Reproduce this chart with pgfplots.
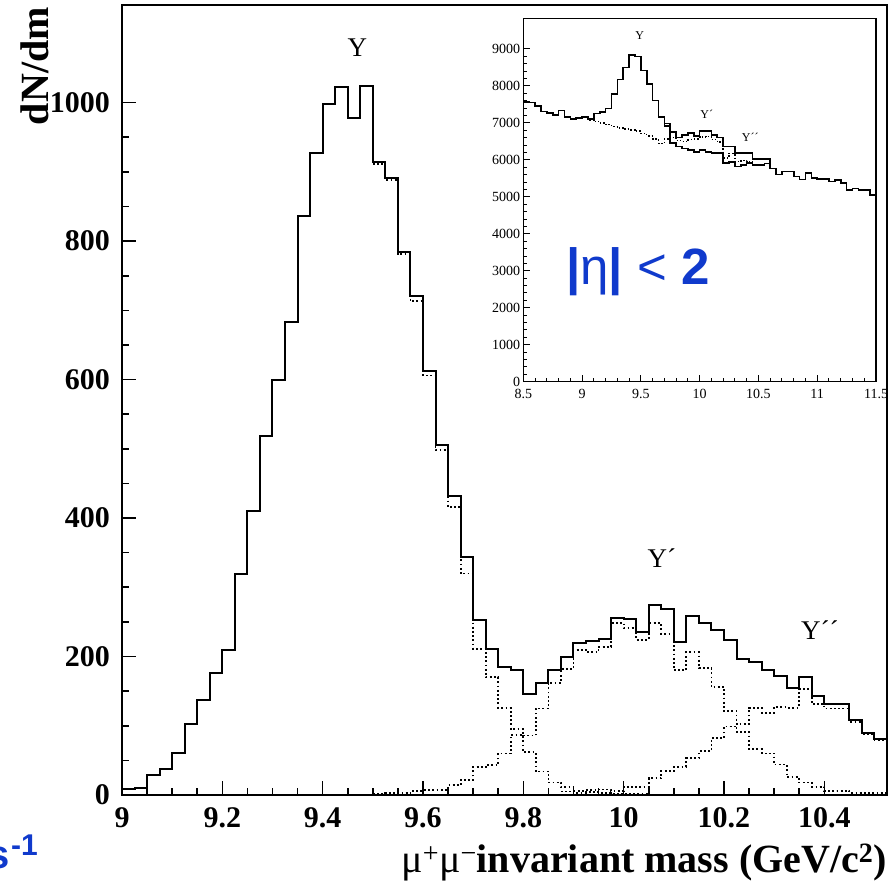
\documentclass[border=0pt]{standalone}
\usepackage{fontspec}
\setmainfont{Liberation Serif}
\setsansfont{Liberation Sans}
\usepackage{pgfplots}
\usepackage{pgfplotstable}
\pgfplotsset{compat=1.18}
\definecolor{labelblue}{RGB}{16,58,204}

% main histogram: total (bin lower edges, width 0.025)
\pgfplotstableread{
m v
9.000 8
9.025 10
9.050 29
9.075 38
9.100 61
9.125 102
9.150 137
9.175 176
9.200 209
9.225 319
9.250 410
9.275 519
9.300 600
9.325 683
9.350 836
9.375 927
9.400 998
9.425 1023
9.450 978
9.475 1024
9.500 914
9.525 891
9.550 784
9.575 721
9.600 613
9.625 505
9.650 432
9.675 344
9.700 253
9.725 211
9.750 185
9.775 181
9.800 146
9.825 162
9.850 180
9.875 200
9.900 219
9.925 222
9.950 225
9.975 256
10.000 254
10.025 235
10.050 274
10.075 269
10.100 221
10.125 258
10.150 248
10.175 238
10.200 224
10.225 196
10.250 192
10.275 181
10.300 172
10.325 154
10.350 171
10.375 143
10.400 131
10.425 131
10.450 108
10.475 90
10.500 81
10.525 81
}\total

\pgfplotstableread{
m v
9.500 911
9.525 888
9.550 781
9.575 713
9.600 606
9.625 498
9.650 416
9.675 320
9.700 211
9.725 170
9.750 126
9.775 95
9.800 62
9.825 34
9.850 18
9.875 11
9.900 6
9.925 4
9.950 3
9.975 2
10.000 1
10.025 1
10.050 1
}\upsA

\pgfplotstableread{
m v
9.500 2
9.525 3
9.550 3
9.575 6
9.600 7
9.625 7
9.650 14
9.675 22
9.700 40
9.725 43
9.750 60
9.775 87
9.800 86
9.825 125
9.850 162
9.875 182
9.900 209
9.925 206
9.950 214
9.975 249
10.000 241
10.025 224
10.050 248
10.075 233
10.100 180
10.125 206
10.150 183
10.175 156
10.200 121
10.225 91
10.250 66
10.275 60
10.300 44
10.325 26
10.350 18
10.375 12
10.400 6
10.425 6
10.450 3
10.475 3
10.500 3
10.525 3
}\upsB

\pgfplotstableread{
m v
9.875 5
9.900 3
9.925 7
9.950 8
9.975 6
10.000 11
10.025 11
10.050 24
10.075 35
10.100 41
10.125 53
10.150 63
10.175 82
10.200 99
10.225 103
10.250 126
10.275 119
10.300 127
10.325 126
10.350 153
10.375 131
10.400 125
10.425 125
10.450 106
10.475 88
10.500 79
10.525 79
}\upsC

% inset: |eta|<2 (bin width 0.05)
\pgfplotstableread{
m v
8.50 7570
8.55 7550
8.60 7450
8.65 7310
8.70 7270
8.75 7220
8.80 7340
8.85 7160
8.90 7100
8.95 7140
9.00 7160
9.05 7100
9.10 7250
9.15 7290
9.20 7390
9.25 7780
9.30 8170
9.35 8500
9.40 8840
9.45 8800
9.50 8420
9.55 8050
9.60 7610
9.65 7160
9.70 6980
9.75 6750
9.80 6600
9.85 6680
9.90 6720
9.95 6640
10.00 6780
10.05 6780
10.10 6680
10.15 6610
10.20 6360
10.25 6360
10.30 6180
10.35 6180
10.40 6180
10.45 6020
10.50 6020
10.55 6020
10.60 5770
10.65 5600
10.70 5690
10.75 5690
10.80 5550
10.85 5470
10.90 5640
10.95 5510
11.00 5480
11.05 5480
11.10 5420
11.15 5460
11.20 5370
11.25 5190
11.30 5230
11.35 5180
11.40 5180
11.45 5050
11.50 5050
}\insetTotal

\pgfplotstableread{
m v
9.65 7160
9.70 6920
9.75 6450
9.80 6360
9.85 6310
9.90 6270
9.95 6220
10.00 6270
10.05 6220
10.10 6180
10.15 6180
10.20 5910
10.25 5950
10.30 5820
10.35 5860
10.40 5910
10.45 5860
10.50 5860
10.55 5900
10.60 5770
}\insetLow

\pgfplotstableread{
m v
9.00 7160
9.05 7080
9.10 7040
9.15 7000
9.20 6950
9.25 6900
9.30 6860
9.35 6830
9.40 6810
9.45 6780
9.50 6720
9.55 6650
9.60 6570
9.65 6450
9.70 6560
9.75 6600
9.80 6520
9.85 6500
9.90 6550
9.95 6560
10.00 6620
10.05 6640
10.10 6550
10.15 6480
10.20 6050
10.25 6180
10.30 5950
10.35 5980
10.40 5950
10.45 6020
10.50 6020
}\insetDot

\begin{document}
\begin{tikzpicture}
\path[use as bounding box] (0,0) rectangle (893pt,884pt);

\begin{axis}[
  at={(122pt,89pt)}, anchor=south west,
  scale only axis, width=765pt, height=790pt,
  xmin=9, xmax=10.525, ymin=0, ymax=1141,
  axis line style={line width=2pt},
  tick align=inside, xtick pos=bottom, ytick pos=left,
  xtick={9,9.2,9.4,9.6,9.8,10,10.2,10.4},
  xticklabels={9,9.2,9.4,9.6,9.8,10,10.2,10.4},
  ytick={0,200,400,600,800,1000},
  yticklabels={0,200,400,600,800,1000},
  minor x tick num=3, minor y tick num=3,
  major tick length=14pt, minor tick length=7pt,
  tick style={line width=1.6pt, black},
  /pgf/number format/assume math mode=true,
  tick label style={font=\fontsize{30}{30}\selectfont\bfseries, inner sep=0pt},
  xticklabel style={anchor=north, yshift=-12pt},
  yticklabel style={anchor=east, xshift=-12pt},
]
\addplot[const plot, line width=1.8pt, dash pattern=on 1.8pt off 2.4pt] table[x=m,y=v]{\upsA};
\addplot[const plot, line width=1.8pt, dash pattern=on 1.8pt off 2.4pt] table[x=m,y=v]{\upsB};
\addplot[const plot, line width=1.8pt, dash pattern=on 1.8pt off 2.4pt] table[x=m,y=v]{\upsC};
\addplot[const plot, line width=2pt] table[x=m,y=v]{\total};
\node[font=\fontsize{27}{27}\selectfont] at (axis cs:9.469,1079) {Υ};
\node[font=\fontsize{27}{27}\selectfont] at (axis cs:10.076,342) {Υ´};
\node[font=\fontsize{27}{27}\selectfont] at (axis cs:10.391,238) {Υ´´};
\end{axis}

\begin{axis}[
  at={(523.3pt,502.3pt)}, anchor=south west,
  scale only axis, width=352.7pt, height=363.4pt,
  xmin=8.5, xmax=11.5, ymin=0, ymax=9830,
  axis background/.style={fill=white},
  axis line style={line width=1.3pt},
  tick align=inside, xtick pos=bottom, ytick pos=left,
  xtick={8.5,9,9.5,10,10.5,11,11.5},
  xticklabels={8.5,9,9.5,10,10.5,11,11.5},
  ytick={0,1000,2000,3000,4000,5000,6000,7000,8000,9000},
  yticklabels={0,1000,2000,3000,4000,5000,6000,7000,8000,9000},
  minor x tick num=4, minor y tick num=4,
  major tick length=7pt, minor tick length=3.5pt,
  tick style={line width=1pt, black},
  /pgf/number format/assume math mode=true,
  tick label style={font=\fontsize{14}{14}\selectfont, inner sep=0pt},
  xticklabel style={anchor=north, yshift=-7pt},
  yticklabel style={anchor=east, xshift=-3pt},
]
\addplot[const plot, line width=1.4pt, dash pattern=on 1.4pt off 2pt] table[x=m,y=v]{\insetDot};
\addplot[const plot, line width=1.6pt] table[x=m,y=v]{\insetLow};
\addplot[const plot, line width=1.6pt] table[x=m,y=v]{\insetTotal};
\node[font=\fontsize{12}{12}\selectfont] at (axis cs:9.49,9351) {Υ};
\node[font=\fontsize{12}{12}\selectfont] at (axis cs:10.06,7238) {Υ´};
\node[font=\fontsize{12}{12}\selectfont] at (axis cs:10.43,6619) {Υ´´};
\end{axis}

% blue annotation in the inset
\node[anchor=base west, inner sep=0pt, text=labelblue, font=\sffamily\fontsize{51}{51}\selectfont]
  at (566pt,599pt) {\textbf{|}η\textbf{|} < \textbf{2}};

% axis titles
\node[rotate=90, anchor=base east, inner sep=0pt, font=\bfseries\fontsize{40}{40}\selectfont]
  at (48pt,877pt) {dN/dm};
\node[anchor=base east, inner sep=0pt, font=\fontsize{40}{40}\selectfont]
  at (887pt,12pt) {μ\textsuperscript{+}μ\textsuperscript{−}\textbf{invariant mass (GeV/c\textsuperscript{2})}};

% clipped blue fragment at lower left
\node[anchor=base east, inner sep=0pt, text=labelblue, font=\sffamily\bfseries\fontsize{40}{40}\selectfont]
  at (10pt,16pt) {s};
\node[anchor=base west, inner sep=0pt, text=labelblue, font=\sffamily\bfseries\fontsize{30}{30}\selectfont]
  at (11pt,29pt) {-1};
\end{tikzpicture}
\end{document}
